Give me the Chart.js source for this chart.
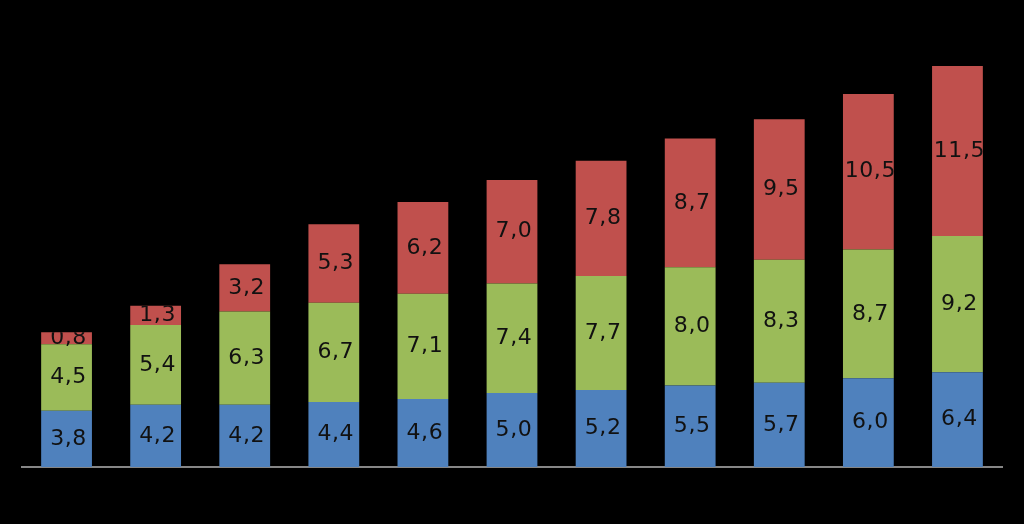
<!DOCTYPE html>
<html>
<head>
<meta charset="utf-8">
<style>
    html, body { margin: 0; padding: 0; background: #000; }
    canvas { display: block; }
</style>
<script src="https://cdn.jsdelivr.net/npm/chart.js@4/dist/chart.umd.min.js"></script>
</head>
<body>
<canvas id="stackChart" width="1024" height="524"></canvas>
<script>
const categories = ['1', '2', '3', '4', '5', '6', '7', '8', '9', '10', '11'];
const blueValues = [3.8, 4.2, 4.2, 4.4, 4.6, 5.0, 5.2, 5.5, 5.7, 6.0, 6.4];
const greenValues = [4.5, 5.4, 6.3, 6.7, 7.1, 7.4, 7.7, 8.0, 8.3, 8.7, 9.2];
const redValues = [0.8, 1.3, 3.2, 5.3, 6.2, 7.0, 7.8, 8.7, 9.5, 10.5, 11.5];

function formatComma(value) {
    return value.toFixed(1).replace('.', ',');
}

// draws each value in the middle of its segment, clipped to the whole column
const segmentLabels = {
    id: 'segmentLabels',
    afterDatasetsDraw(chart) {
        const ctx = chart.ctx;
        const metas = chart.data.datasets.map((_, i) => chart.getDatasetMeta(i));
        const topMeta = metas[metas.length - 1];
        const bottom = chart.chartArea.bottom;

        ctx.save();
        ctx.font = '22px "DejaVu Sans", Verdana, sans-serif';
        ctx.letterSpacing = '0.6px';
        ctx.fillStyle = '#111';
        ctx.textAlign = 'center';
        ctx.textBaseline = 'middle';

        categories.forEach((_, index) => {
            const topBar = topMeta.data[index];
            const left = topBar.x - topBar.width / 2;
            ctx.save();
            ctx.beginPath();
            ctx.rect(left, topBar.y, topBar.width, bottom - topBar.y);
            ctx.clip();
            metas.forEach((meta, di) => {
                const bar = meta.data[index];
                const value = chart.data.datasets[di].data[index];
                ctx.fillText(formatComma(value), bar.x + 2, (bar.y + bar.base) / 2);
            });
            ctx.restore();
        });
        ctx.restore();
    }
};

new Chart(document.getElementById('stackChart'), {
    type: 'bar',
    data: {
        labels: categories,
        datasets: [
            { data: blueValues, backgroundColor: '#4F81BD' },
            { data: greenValues, backgroundColor: '#9BBB59' },
            { data: redValues, backgroundColor: '#C0504D' }
        ]
    },
    options: {
        responsive: false,
        animation: false,
        layout: {
            padding: { left: 22, right: 22, top: 23, bottom: 57 }
        },
        datasets: {
            bar: { barPercentage: 0.57, categoryPercentage: 1.0 }
        },
        plugins: {
            legend: { display: false },
            tooltip: { enabled: false }
        },
        scales: {
            x: {
                stacked: true,
                ticks: { display: false },
                grid: { display: false, drawTicks: false },
                border: { display: true, color: '#868686', width: 2 },
                afterFit: (scale) => { scale.height = 0; }
            },
            y: {
                stacked: true,
                display: false,
                min: 0,
                max: 30
            }
        }
    },
    plugins: [segmentLabels]
});
</script>
</body>
</html>
